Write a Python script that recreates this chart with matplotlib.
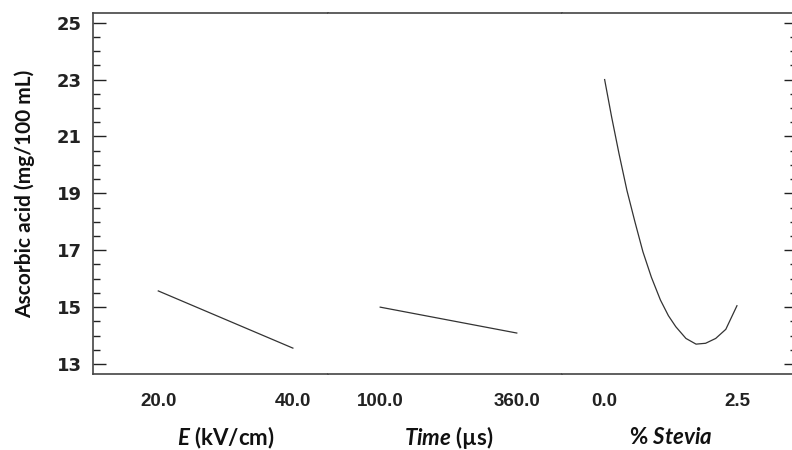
import matplotlib
matplotlib.use("Agg")
import matplotlib.pyplot as plt
from matplotlib.ticker import MultipleLocator

plt.rcParams["mathtext.fontset"] = "custom"
plt.rcParams["mathtext.it"] = "Lato:italic:bold"
plt.rcParams["mathtext.rm"] = "Lato:bold"

# main effects
e_field = [20.0, 40.0]
e_acid = [15.57, 13.56]

time_us = [100.0, 360.0]
time_acid = [15.0, 14.09]

stevia_pct = [0.0, 0.13, 0.27, 0.42, 0.57, 0.72, 0.88, 1.05, 1.20, 1.34,
              1.53, 1.72, 1.90, 2.09, 2.28, 2.49]
stevia_acid = [23.0, 21.7, 20.4, 19.1, 18.0, 16.95, 16.05, 15.25, 14.7, 14.31,
               13.9, 13.70, 13.73, 13.90, 14.22, 15.05]

factor_labels = [r"$\mathit{E}$ (kV/cm)", r"$\mathit{Time}$ (µs)", r"% $\mathit{Stevia}$"]
tick_values = [[20.0, 40.0], [100.0, 360.0], [0.0, 2.5]]
tick_labels = [["20.0", "40.0"], ["100.0", "360.0"], ["0.0", "2.5"]]
y_ticks = [13, 15, 17, 19, 21, 23, 25]
y_label = "Ascorbic acid (mg/100 mL)"

series = [(e_field, e_acid), (time_us, time_acid), (stevia_pct, stevia_acid)]
x_limits = [(10.30, 45.17), (0.0, 446.7), (-0.796, 3.62)]

fig, axes = plt.subplots(1, 3, figsize=(7.92, 4.5), dpi=100, sharey=True)
fig.subplots_adjust(left=93 / 792, right=797 / 792, top=1 - 13 / 450,
                    bottom=1 - 374 / 450, wspace=0)

spine_color = "#444444"
for i, ax in enumerate(axes):
    xs, ys = series[i]
    ax.plot(xs, ys, color="#333333", lw=0.9)
    ax.set_xlim(*x_limits[i])
    ax.set_xticks(tick_values[i])
    ax.set_xticklabels(tick_labels[i], fontfamily="Liberation Sans",
                       fontweight="bold", fontsize=13.5, color="#222222")
    ax.tick_params(axis="x", length=0, pad=14)
    for side in ["top", "bottom", "left", "right"]:
        ax.spines[side].set_color(spine_color)
        ax.spines[side].set_linewidth(1.2)
    if i > 0:
        ax.spines["left"].set_visible(False)
    if i < 2:
        ax.spines["right"].set_visible(False)
    mid = (tick_values[i][0] + tick_values[i][1]) / 2
    ax.annotate(factor_labels[i], xy=(mid, 0), xycoords=("data", "axes fraction"),
                xytext=(0, -46), textcoords="offset points", ha="center", va="center",
                fontfamily="Lato", fontweight="bold", fontsize=16, color="#111111")

axes[0].set_ylim(12.65, 25.34)
axes[0].set_yticks(y_ticks)
axes[0].yaxis.set_minor_locator(MultipleLocator(0.5))
for ax in axes:
    ax.tick_params(axis="y", which="both", left=False, right=False,
                   labelleft=False, labelright=False)
axes[0].tick_params(axis="y", which="both", direction="in", left=True,
                    labelleft=True, color="#222222", width=1.0)
axes[2].tick_params(axis="y", which="both", direction="in", right=True,
                    color="#222222", width=1.0)
for ax in (axes[0], axes[2]):
    ax.tick_params(axis="y", which="major", length=9.4)
    ax.tick_params(axis="y", which="minor", length=5)
axes[0].tick_params(axis="y", which="major", pad=8)
for lbl in axes[0].get_yticklabels():
    lbl.set_fontfamily("DejaVu Sans")
    lbl.set_fontweight("bold")
    lbl.set_fontsize(13)
    lbl.set_color("#222222")

axes[0].set_ylabel(y_label, fontfamily="Lato", fontweight="bold", fontsize=15,
                   color="#111111", labelpad=16)

fig.savefig("out.png", dpi=100)
